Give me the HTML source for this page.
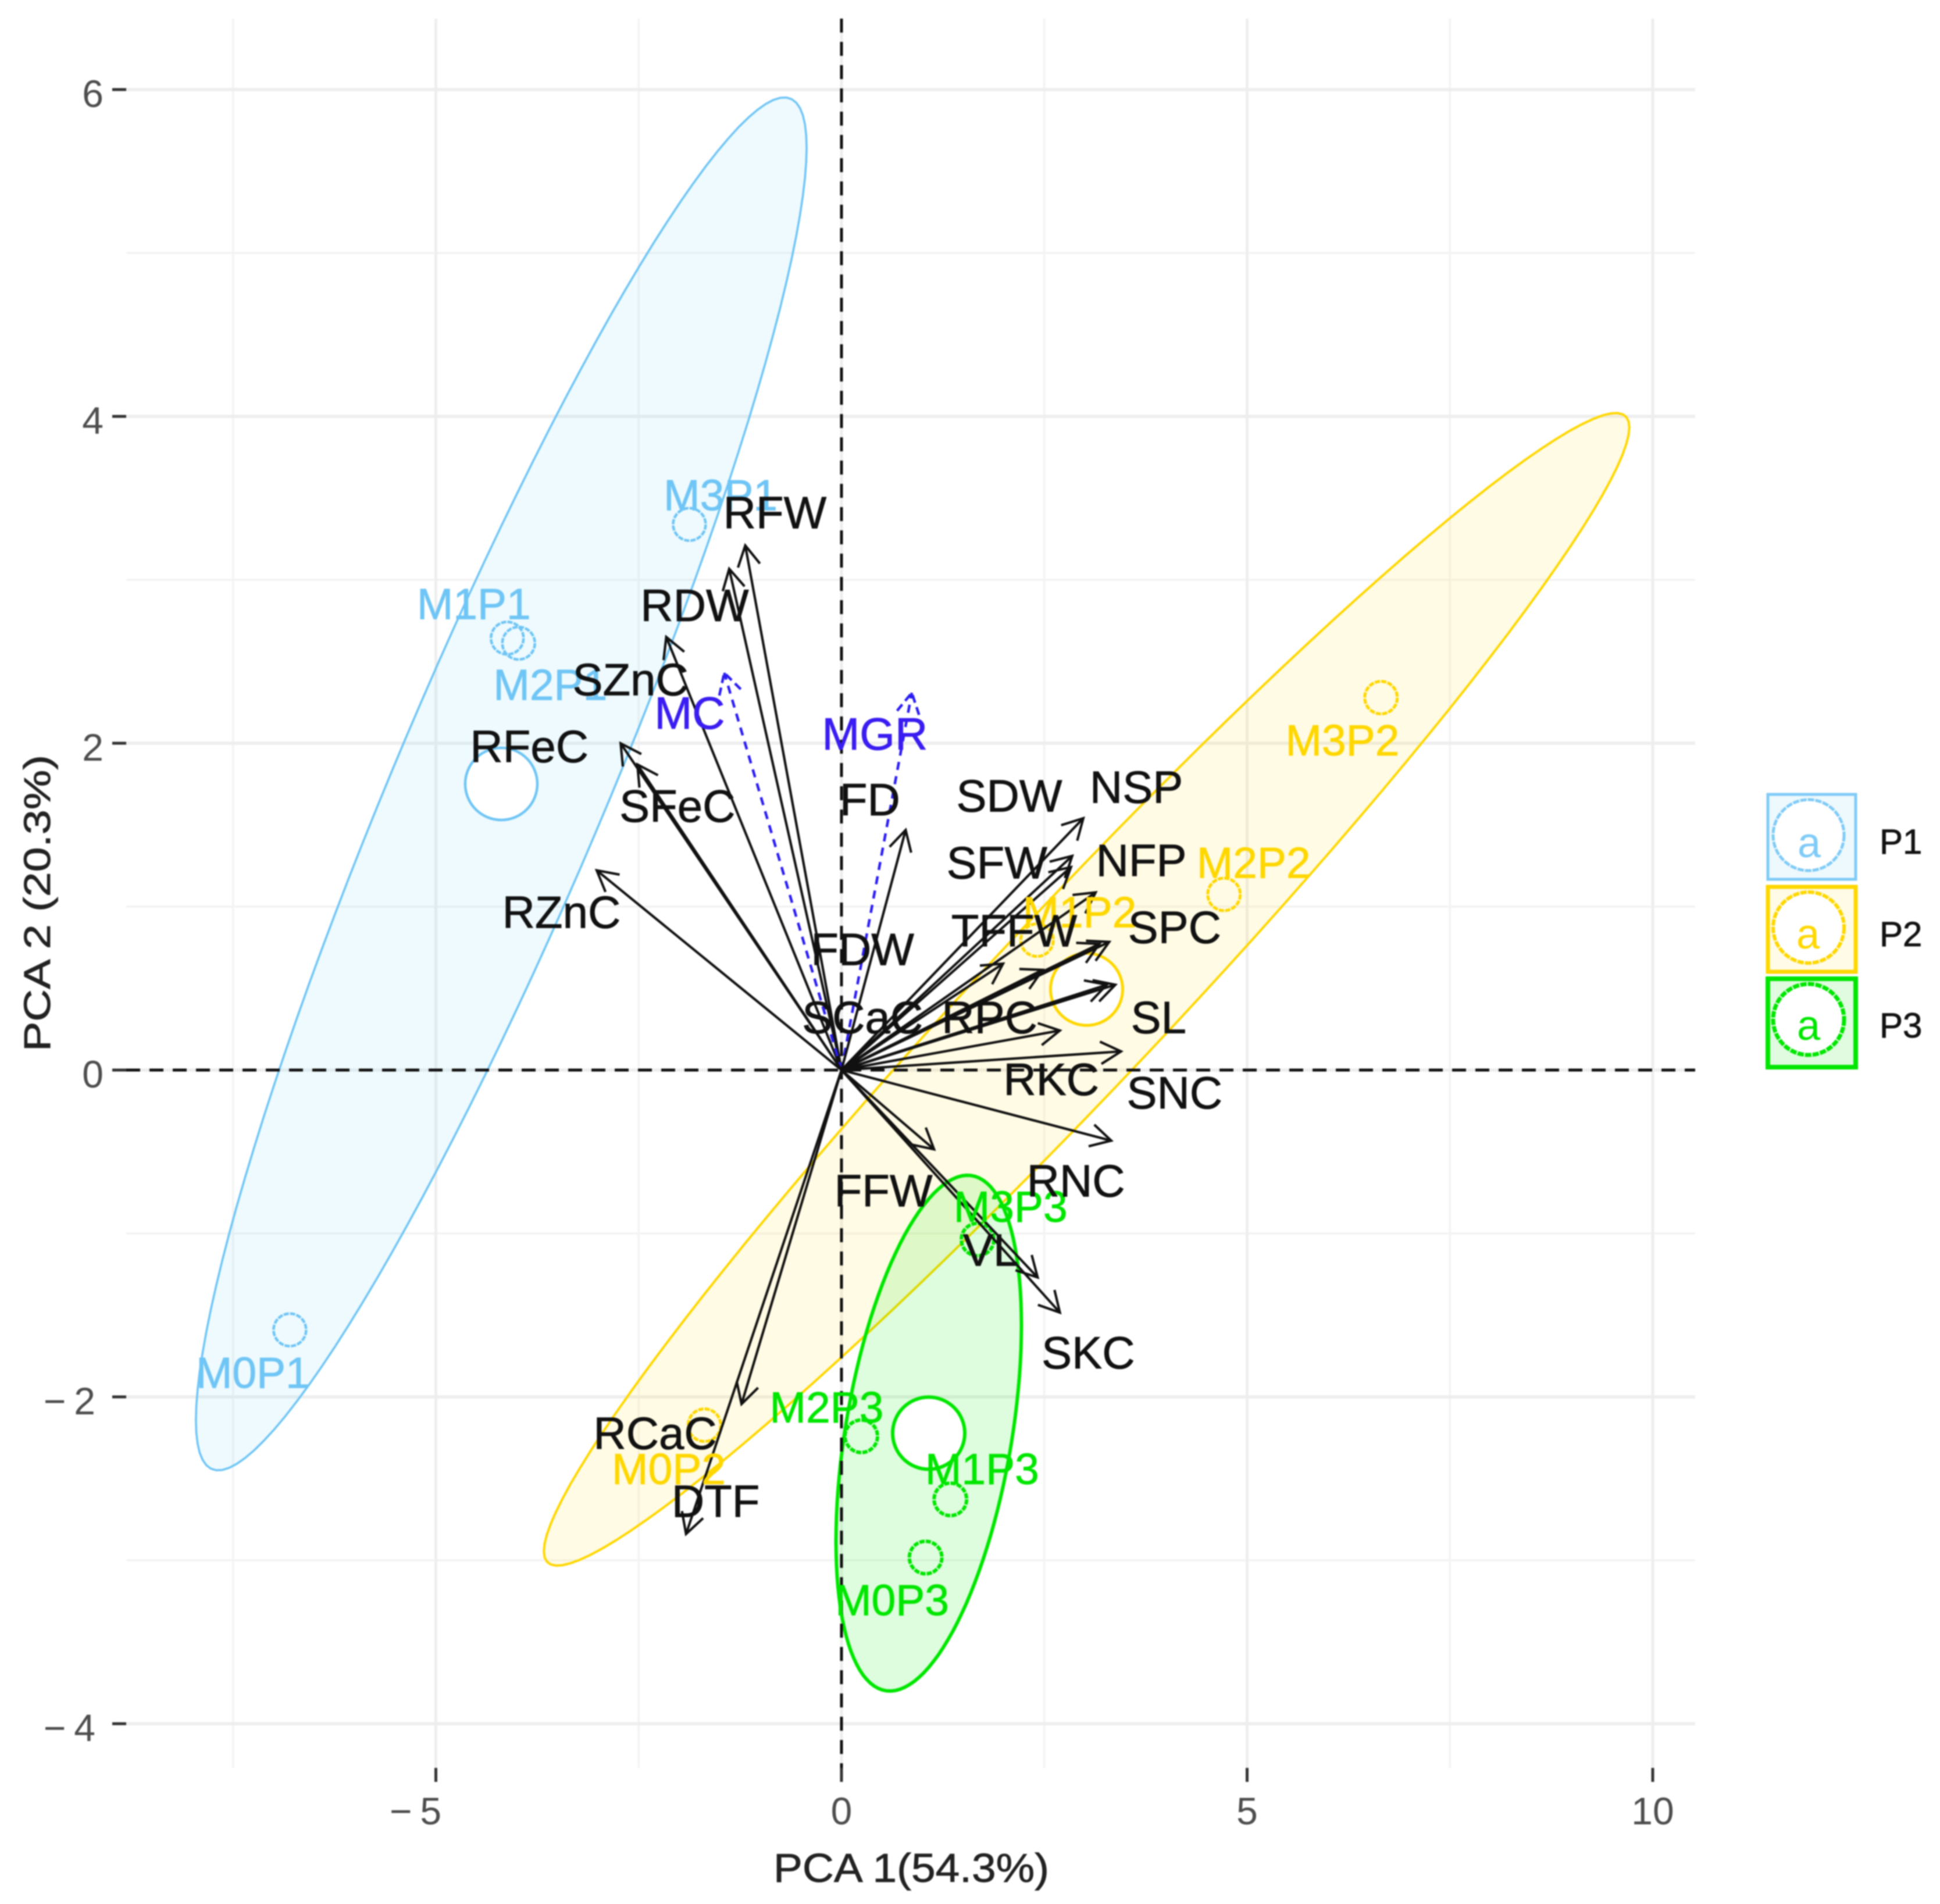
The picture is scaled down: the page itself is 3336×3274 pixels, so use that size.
<!DOCTYPE html>
<html lang="en">
<head>
<meta charset="utf-8">
<title>PCA biplot</title>
<style>
html,body{margin:0;padding:0;background:#fff;}
svg{display:block;font-family:"Liberation Sans",Arial,sans-serif;filter:blur(1px);}
</style>
</head>
<body>
<svg id="chart" xmlns="http://www.w3.org/2000/svg" width="3336" height="3274" viewBox="0 0 3336 3274">
  <rect x="0" y="0" width="3336" height="3274" fill="#fff"/>
  <g id="grid"></g>
  <g id="ellipses"></g>
  <g id="refs"></g>
  <g id="points"></g>
  <g id="arrows"></g>
  <g id="labels"></g>
  <g id="axes"></g>

  <text x="1567" y="3236" font-size="70" fill="#222" stroke="#222" stroke-width="0.8" text-anchor="middle" textLength="474" lengthAdjust="spacingAndGlyphs">PCA 1(54.3%)</text>
  <text transform="translate(86,1553) rotate(-90)" font-size="64" fill="#222" stroke="#222" stroke-width="0.8" text-anchor="middle" textLength="510" lengthAdjust="spacingAndGlyphs">PCA 2  (20.3%)</text>

  <g>
    <g>
      <rect x="3040" y="1366" width="151" height="146" fill="#eef9fd" stroke="#7fcbf7" stroke-width="5"/>
      <circle cx="3110" cy="1436" r="61" fill="#fff" stroke="#7fcbf7" stroke-width="5" stroke-dasharray="11 2"/>
      <text x="3111" y="1474" font-size="72" fill="#7fcbf7" text-anchor="middle">a</text>
      <text x="3232" y="1468" font-size="60" fill="#111" stroke="#111" stroke-width="0.8">P1</text>
    </g>
    <g>
      <rect x="3040" y="1525" width="151" height="146" fill="#fffbe6" stroke="#ffd700" stroke-width="7"/>
      <circle cx="3110" cy="1595" r="61" fill="#fff" stroke="#ffd700" stroke-width="6" stroke-dasharray="11 2"/>
      <text x="3109" y="1631" font-size="72" fill="#ffd700" text-anchor="middle">a</text>
      <text x="3232" y="1627" font-size="60" fill="#111" stroke="#111" stroke-width="0.8">P2</text>
    </g>
    <g>
      <rect x="3040" y="1683" width="151" height="152" fill="#e0fbe0" stroke="#00e600" stroke-width="8"/>
      <circle cx="3110" cy="1753" r="61" fill="#fff" stroke="#00e600" stroke-width="7" stroke-dasharray="11 2"/>
      <text x="3110" y="1788" font-size="72" fill="#00e600" text-anchor="middle">a</text>
      <text x="3232" y="1784" font-size="60" fill="#111" stroke="#111" stroke-width="0.8">P3</text>
    </g>
  </g>
</svg>

<script>
/* ---------- axis ticks ---------- */
const xMajorTicks = [-5, 0, 5, 10];
const xMinorTicks = [-7.5, -2.5, 2.5, 7.5];
const yMajorTicks = [-4, -2, 0, 2, 4, 6];
const yMinorTicks = [-3, -1, 1, 3, 5];
const xTickLabels = ["\u22125", "0", "5", "10"];
const yTickLabels = ["\u22124", "\u22122", "0", "2", "4", "6"];

/* ---------- group observations (PCA scores) ---------- */
const groupNames = ["P1", "P2", "P3"];
const obsNames = [
  ["M0P1", "M1P1", "M2P1", "M3P1"],
  ["M0P2", "M1P2", "M2P2", "M3P2"],
  ["M0P3", "M1P3", "M2P3", "M3P3"]
];
const obsX = [
  [-6.80, -4.12, -3.98, -1.875],
  [-1.69, 2.41, 4.715, 6.65],
  [1.037, 1.342, 0.244, 1.678]
];
const obsY = [
  [-1.590, 2.643, 2.612, 3.339],
  [-2.173, 0.795, 1.075, 2.279],
  [-2.983, -2.627, -2.241, -1.037]
];
const obsLabelX = [
  [-7.255, -4.532, -3.589, -1.490],
  [-2.129, 2.935, 5.080, 6.175],
  [0.624, 1.734, -0.183, 2.084]
];
const obsLabelY = [
  [-1.848, 2.855, 2.362, 3.521],
  [-2.438, 0.969, 1.272, 2.022],
  [-3.241, -2.438, -2.060, -0.833]
];
const ellipseScale = 1.865;

/* ---------- variable loadings ---------- */
const varNames = ["RFW","RDW","SZnC","MC","MGR","FD","RFeC","SFeC","RZnC","NSP","SDW","SFW","NFP","SPC","TFFW","FDW","SCaC","RPC","SL","RKC","SNC","RNC","FFW","VL","SKC","RCaC","DTF"];
const varX = [-1.186,-1.384,-2.160,-1.445,0.867,0.791,-2.722,-2.516,-3.017,2.981,2.844,2.829,3.133,3.300,3.179,1.992,2.479,3.270,3.376,2.692,3.446,3.325,1.141,2.418,2.692,-1.232,-1.916];
const varY = [3.210,3.067,2.650,2.431,2.309,1.469,1.999,1.870,1.222,1.541,1.310,1.242,1.087,0.784,0.772,0.651,0.613,0.522,0.522,0.242,0.114,-0.432,-0.485,-1.269,-1.484,-2.044,-2.839];
const varLabelX = [-0.821,-1.810,-2.601,-1.871,0.411,0.350,-3.848,-2.023,-3.452,3.635,2.068,1.916,3.696,4.106,2.129,0.259,0.259,1.825,3.909,2.586,4.106,2.890,0.517,1.840,3.042,-2.297,-1.551];
const varLabelY = [3.415,2.847,2.393,2.188,2.060,1.658,1.984,1.620,0.969,1.734,1.681,1.272,1.287,0.878,0.856,0.742,0.326,0.326,0.326,-0.053,-0.136,-0.674,-0.734,-1.098,-1.726,-2.219,-2.635];
const varIsDashed = ["MC", "MGR"];

/* ---------- axis functions ---------- */
const panelLeft = 217, panelRight = 2915, panelTop = 32, panelBottom = 3040;
const X = v => 1447 + 139.5 * v;
const Y = v => 1840 - 281 * v;

const groupStroke = ["#6fc5f5", "#ffd700", "#00e600"];
const groupFill = ["rgba(135,220,245,0.14)", "rgba(255,215,0,0.10)", "rgba(0,230,0,0.13)"];
const groupStrokeWidth = [3.6, 4, 6];
const groupCircleWidth = [4.5, 5, 6];

const NS = "http://www.w3.org/2000/svg";
function mk(tag, attrs, parent) {
  const el = document.createElementNS(NS, tag);
  for (const k in attrs) el.setAttribute(k, attrs[k]);
  parent.appendChild(el);
  return el;
}
const mean = a => a.reduce((s, v) => s + v, 0) / a.length;

/* ---------- gridlines ---------- */
const grid = document.getElementById("grid");
xMinorTicks.forEach(v => {
  const el = mk("line", {x1: X(v), x2: X(v), y1: panelTop, y2: panelBottom, stroke: "#f3f3f3", "stroke-width": 3.5}, grid);
  
  
});
yMinorTicks.forEach(v => {
  const el = mk("line", {x1: panelLeft, x2: panelRight, y1: Y(v), y2: Y(v), stroke: "#f3f3f3", "stroke-width": 3.5}, grid);
  
  
});
xMajorTicks.forEach(v => {
  const el = mk("line", {x1: X(v), x2: X(v), y1: panelTop, y2: panelBottom, stroke: "#eeeeee", "stroke-width": 5}, grid);
  
  
});
yMajorTicks.forEach(v => {
  const el = mk("line", {x1: panelLeft, x2: panelRight, y1: Y(v), y2: Y(v), stroke: "#eeeeee", "stroke-width": 5.5}, grid);
  
  
});

/* ---------- ellipses computed from each group's scores ---------- */
const ellipses = document.getElementById("ellipses");
groupNames.forEach((g, i) => {
  const xs = obsX[i], ys = obsY[i];
  const mx = mean(xs), my = mean(ys), n = xs.length;
  let sxx = 0, syy = 0, sxy = 0;
  for (let j = 0; j < n; j++) {
    sxx += (xs[j] - mx) * (xs[j] - mx);
    syy += (ys[j] - my) * (ys[j] - my);
    sxy += (xs[j] - mx) * (ys[j] - my);
  }
  const sdx = Math.sqrt(sxx / (n - 1)), sdy = Math.sqrt(syy / (n - 1));
  const rho = (sxy / (n - 1)) / (sdx * sdy);
  const pts = [];
  for (let s = 0; s < 120; s++) {
    const t = s / 120 * 2 * Math.PI;
    const px = mx + ellipseScale * sdx * Math.cos(t);
    const py = my + ellipseScale * sdy * (rho * Math.cos(t) + Math.sqrt(1 - rho * rho) * Math.sin(t));
    pts.push(X(px).toFixed(1) + "," + Y(py).toFixed(1));
  }
  const el = mk("polygon", {points: pts.join(" "), fill: groupFill[i], stroke: groupStroke[i], "stroke-width": groupStrokeWidth[i], "stroke-linejoin": "round"}, ellipses);
  
  
});

/* ---------- reference lines ---------- */
const refs = document.getElementById("refs");
const hRef = mk("line", {x1: panelLeft, x2: panelRight, y1: Y(0), y2: Y(0), stroke: "#111", "stroke-width": 5, "stroke-dasharray": "24 16"}, refs);


const vRef = mk("line", {x1: X(0), x2: X(0), y1: panelTop, y2: panelBottom, stroke: "#111", "stroke-width": 5, "stroke-dasharray": "24 16"}, refs);



/* ---------- points and centroids ---------- */
const points = document.getElementById("points");
groupNames.forEach((g, i) => {
  const c = mk("circle", {cx: X(mean(obsX[i])), cy: Y(mean(obsY[i])), r: 62, fill: "#fff", stroke: groupStroke[i], "stroke-width": groupCircleWidth[i]}, points);
  
  
  obsNames[i].forEach((name, j) => {
    const p = mk("circle", {cx: X(obsX[i][j]), cy: Y(obsY[i][j]), r: 28, fill: "none", stroke: groupStroke[i], "stroke-width": groupCircleWidth[i], "stroke-dasharray": "9 2"}, points);
    
    
  });
});

/* ---------- arrows ---------- */
const arrows = document.getElementById("arrows");
const headLen = 40, headAngle = 0.5;
varNames.forEach((name, i) => {
  const dashed = varIsDashed.includes(name);
  const x0 = X(0), y0 = Y(0), x1 = X(varX[i]), y1 = Y(varY[i]);
  const a = Math.atan2(y1 - y0, x1 - x0);
  const color = dashed ? "#2a1cf0" : "#111";
  const dash = dashed ? "14 11" : "none";
  const width = dashed ? 4.5 : 4.2;
  const shaft = mk("line", {x1: x0, y1: y0, x2: x1, y2: y1, stroke: color, "stroke-width": width, "stroke-dasharray": dash}, arrows);
  
  
  const bx1 = x1 - headLen * Math.cos(a - headAngle), by1 = y1 - headLen * Math.sin(a - headAngle);
  const bx2 = x1 - headLen * Math.cos(a + headAngle), by2 = y1 - headLen * Math.sin(a + headAngle);
  const head = mk("polyline", {points: bx1 + "," + by1 + " " + x1 + "," + y1 + " " + bx2 + "," + by2, fill: "none", stroke: color, "stroke-width": width, "stroke-dasharray": dashed ? "14 8" : "none"}, arrows);
  
  
});

/* ---------- text labels ---------- */
const labels = document.getElementById("labels");
groupNames.forEach((g, i) => {
  obsNames[i].forEach((name, j) => {
    const t = mk("text", {x: X(obsLabelX[i][j]), y: Y(obsLabelY[i][j]) + 27, "font-size": 75, fill: groupStroke[i], stroke: groupStroke[i], "stroke-width": 0.8, "text-anchor": "middle"}, labels);
    t.textContent = name;
    
    
  });
});
varNames.forEach((name, i) => {
  const col = varIsDashed.includes(name) ? "#3a1df0" : "#111";
  const t = mk("text", {x: X(varLabelX[i]), y: Y(varLabelY[i]) + 28, "font-size": 78, fill: col, stroke: col, "stroke-width": 0.8, "text-anchor": "middle"}, labels);
  t.textContent = name;
  
  
});

/* ---------- axes ---------- */
const axes = document.getElementById("axes");
xMajorTicks.forEach((v, i) => {
  const tick = mk("line", {x1: X(v), x2: X(v), y1: panelBottom, y2: panelBottom + 24, stroke: "#333", "stroke-width": 5}, axes);
  
  
  const t = mk("text", {x: X(v) - (v < 0 ? 28 : 0), y: 3137, "font-size": 66, fill: "#4d4d4d", "letter-spacing": v < 0 ? 14 : 0, "text-anchor": "middle"}, axes);
  t.textContent = xTickLabels[i];
  
  
});
yMajorTicks.forEach((v, i) => {
  const tick = mk("line", {x1: panelLeft - 24, x2: panelLeft, y1: Y(v), y2: Y(v), stroke: "#333", "stroke-width": 5}, axes);
  
  
  const t = mk("text", {x: 178, y: Y(v) + 30, "font-size": 66, fill: "#4d4d4d", "letter-spacing": v < 0 ? 14 : 0, "text-anchor": "end"}, axes);
  t.textContent = yTickLabels[i];
  
  
});
</script>
</body>
</html>
